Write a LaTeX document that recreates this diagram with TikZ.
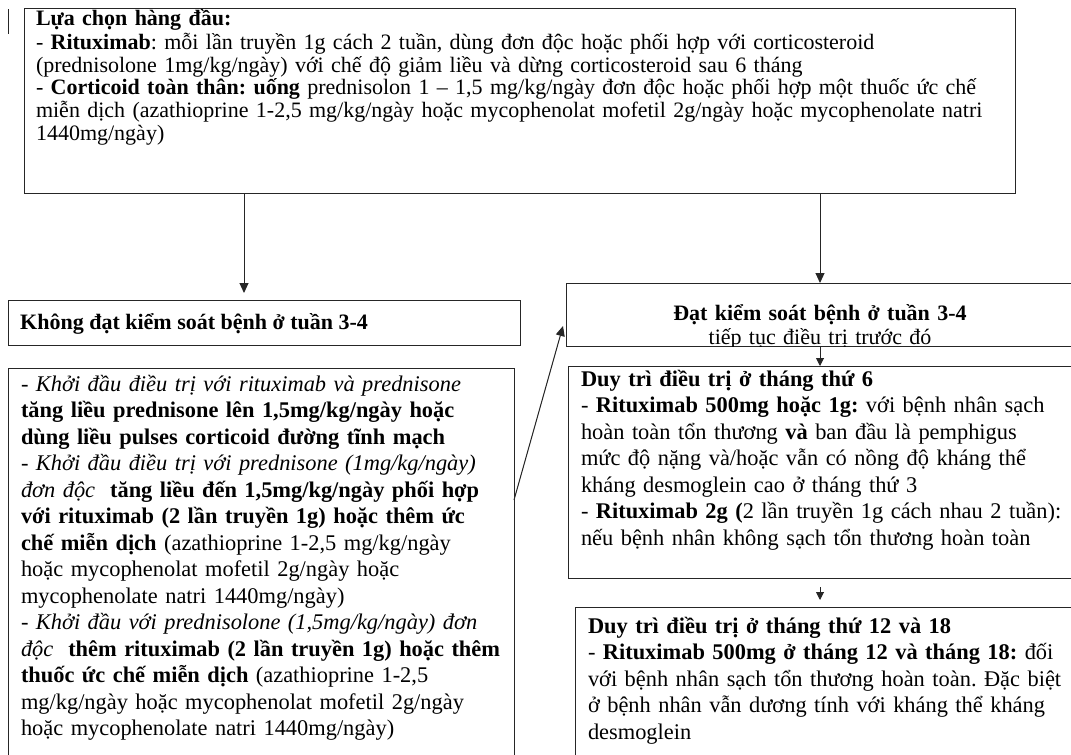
\documentclass[tikz,border=0pt]{standalone}
\usepackage{fontspec}
\setmainfont{Liberation Serif}
\usetikzlibrary{arrows.meta,positioning,calc}
\frenchspacing

\tikzset{
	box/.style={draw=black!85, line width=1pt, rectangle, inner sep=0pt, outer sep=0pt, anchor=north west},
	txt/.style={inner sep=0pt, outer sep=0pt, anchor=north west, align=left},
	arr/.style={-{Triangle[length=10pt,width=9pt]}, line width=1pt, draw=black!85, fill=black!85},
	sarr/.style={-{Triangle[length=8pt,width=8pt]}, line width=1pt, draw=black!85, fill=black!85},
}
\newcommand{\topfont}{\fontsize{22pt}{22.6pt}\selectfont}
\newcommand{\lowfont}{\fontsize{22.4pt}{26.5pt}\selectfont}

\begin{document}
\begin{tikzpicture}[x=1pt,y=-1pt]
	\useasboundingbox (0,0) rectangle (1071,755);
	\clip (0,0) rectangle (1071,755);
	
	% stray mark
	\draw[line width=1pt, black!85] (8,9) -- (8,34);
	
	% first line treatment
	\node[box, minimum width=991pt, minimum height=185pt] (choice) at (24,8) {};
	\node[txt, text width=1000pt, font=\topfont] (choicetx) at (36,9.5) {\strut\textbf{Lựa chọn hàng đầu:}\\
		- \textbf{Rituximab}: mỗi lần truyền 1g cách 2 tuần, dùng đơn độc hoặc phối hợp với corticosteroid\\
		(prednisolone 1mg/kg/ngày) với chế độ giảm liều và dừng corticosteroid sau 6 tháng\\
		- \textbf{Corticoid toàn thân: uống} prednisolon 1 – 1,5 mg/kg/ngày đơn độc hoặc phối hợp một thuốc ức chế\\
		miễn dịch (azathioprine 1-2,5 mg/kg/ngày hoặc mycophenolat mofetil 2g/ngày hoặc mycophenolate natri\\
		1440mg/ngày)};
	
	% no control
	\node[box, minimum width=512pt, minimum height=45pt] (fail) at (8,300) {};
	\node[inner sep=0pt, anchor=base west, font=\topfont] (failtx) at (20,329) {\textbf{Không đạt kiểm soát bệnh ở tuần 3-4}};
	
	\node[box, minimum width=506pt, minimum height=400pt] (rescue) at (8,368) {};
	\node[txt, text width=600pt, font=\lowfont] (rescuetx) at (21,372.5) {\strut\textit{- Khởi đầu điều trị với rituximab và prednisone}\\
		\textbf{tăng liều prednisone lên 1,5mg/kg/ngày hoặc}\\
		\textbf{dùng liều pulses corticoid đường tĩnh mạch}\\
		\textit{- Khởi đầu điều trị với prednisone (1mg/kg/ngày)}\\
		\textit{đơn độc}\ \ \textbf{tăng liều đến 1,5mg/kg/ngày phối hợp}\\
		\textbf{với rituximab (2 lần truyền 1g) hoặc thêm ức}\\
		\textbf{chế miễn dịch} (azathioprine 1-2,5 mg/kg/ngày\\
		hoặc mycophenolat mofetil 2g/ngày hoặc\\
		mycophenolate natri 1440mg/ngày)\\
		\textit{- Khởi đầu với prednisolone (1,5mg/kg/ngày) đơn}\\
		\textit{độc}\ \ \textbf{thêm rituximab (2 lần truyền 1g) hoặc thêm}\\
		\textbf{thuốc ức chế miễn dịch} (azathioprine 1-2,5\\
		mg/kg/ngày hoặc mycophenolat mofetil 2g/ngày\\
		hoặc mycophenolate natri 1440mg/ngày)};
	
	% control reached
	\node[box, minimum width=508pt, minimum height=63pt] (ok) at (566,283) {};
	\begin{scope}
		\clip (ok.north west) rectangle (ok.south east);
		\node[inner sep=0pt, anchor=north, text width=500pt, align=center, font=\fontsize{22pt}{24pt}\selectfont] (oktx) at (820,303.5) {\strut\textbf{Đạt kiểm soát bệnh ở tuần 3-4}\\ tiếp tục điều trị trước đó};
	\end{scope}
	
	\node[box, minimum width=506pt, minimum height=212pt] (keep6) at (568,366) {};
	\node[txt, text width=600pt, font=\lowfont] (keep6tx) at (581,367.5) {\strut\textbf{Duy trì điều trị ở tháng thứ 6}\\
		- \textbf{Rituximab 500mg hoặc 1g:} với bệnh nhân sạch\\
		hoàn toàn tổn thương \textbf{và} ban đầu là pemphigus\\
		mức độ nặng và/hoặc vẫn có nồng độ kháng thể\\
		kháng desmoglein cao ở tháng thứ 3\\
		- \textbf{Rituximab 2g (}2 lần truyền 1g cách nhau 2 tuần):\\
		nếu bệnh nhân không sạch tổn thương hoàn toàn};
	
	\node[box, minimum width=505pt, minimum height=160pt] (keep12) at (575,607) {};
	\node[txt, text width=600pt, font=\lowfont] (keep12tx) at (588,614.5) {\strut\textbf{Duy trì điều trị ở tháng thứ 12 và 18}\\
		- \textbf{Rituximab 500mg ở tháng 12 và tháng 18:} đối\\
		với bệnh nhân sạch tổn thương hoàn toàn. Đặc biệt\\
		ở bệnh nhân vẫn dương tính với kháng thể kháng\\
		desmoglein};
	
	% arrows
	\coordinate (lx) at (244,0);
	\draw[arr, shorten >=7pt] (lx |- choice.south) -- (lx |- fail.north);
	\draw[arr] (choice.south -| ok.north) -- (ok.north);
	\draw[sarr] (ok.south) -- (ok.south |- keep6.north);
	\draw[sarr, shorten <=9pt, shorten >=7pt] (ok.south |- keep6.south) -- (ok.south |- keep12.north);
	\draw[arr] ($(rescue.north east)+(0,132)$) -- ($(ok.south west)+(-3,-20)$);
\end{tikzpicture}
\end{document}
